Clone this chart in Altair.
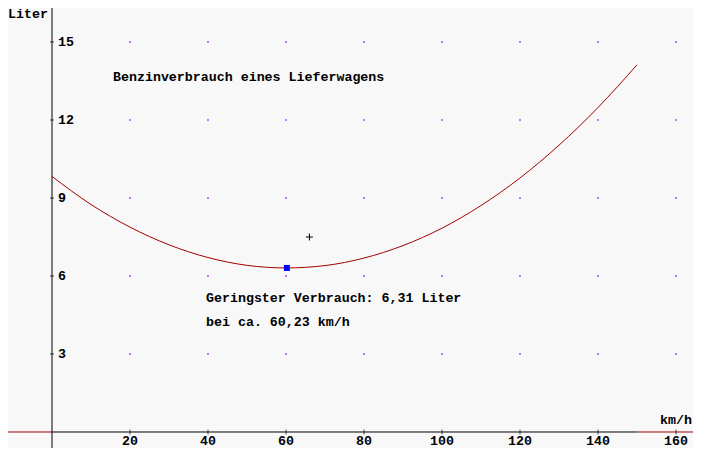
import altair as alt
import pandas as pd

# ---- data ----
speeds = [0, 10, 20, 30, 40, 50, 60, 70, 80, 90, 100, 110, 120, 130, 140, 150]
liters = [9.83, 8.75, 7.88, 7.20, 6.71, 6.41, 6.31, 6.40, 6.69, 7.17, 7.84, 8.71, 9.77, 11.03, 12.48, 14.12]
x_ticks = [20, 40, 60, 80, 100, 120, 140, 160]
y_ticks = [3, 6, 9, 12, 15]
min_speed = 60.23
min_liter = 6.31
marker_speed = 66
marker_liter = 7.5
curve_end = 150

title_text = "Benzinverbrauch eines Lieferwagens"
note1 = "Geringster Verbrauch: 6,31 Liter"
note2 = "bei ca. 60,23 km/h"
y_label = "Liter"
x_label = "km/h"

# ---- scales (chart is 685x440, placed at the page's 8px margin) ----
X_DOM = [-11.282, 164.36]
Y_DOM = [-0.6154, 16.3077]
xs = alt.Scale(domain=X_DOM, nice=False, zero=False)
ys = alt.Scale(domain=Y_DOM, nice=False, zero=False)

FONT = "Liberation Mono"
FS = 13.3

curve_df = pd.DataFrame({"v": speeds, "l": liters})
grid_df = pd.DataFrame([{"v": a, "l": b} for a in x_ticks for b in y_ticks])
xt_df = pd.DataFrame({"v": x_ticks, "l": [0] * len(x_ticks), "t": [str(t) for t in x_ticks]})
yt_df = pd.DataFrame({"v": [0] * len(y_ticks), "l": y_ticks, "t": [str(t) for t in y_ticks]})
min_df = pd.DataFrame({"v": [min_speed], "l": [min_liter]})
mark_df = pd.DataFrame({"v": [marker_speed], "l": [marker_liter]})

X = lambda f: alt.X(f, scale=xs, axis=None)
Y = lambda f: alt.Y(f, scale=ys, axis=None)

# x axis: black on curve range, red outside
xaxis_df = pd.DataFrame({"a": [0], "b": [curve_end], "l": [0]})
xred_df = pd.DataFrame({"a": [X_DOM[0], curve_end], "b": [0, X_DOM[1]], "l": [0, 0]})
yaxis_df = pd.DataFrame({"v": [0], "a": [Y_DOM[0]], "b": [Y_DOM[1]]})

xaxis = alt.Chart(xaxis_df).mark_rule(color="black", strokeWidth=1).encode(
    x=X("a:Q"), x2="b:Q", y=Y("l:Q"))
xred = alt.Chart(xred_df).mark_rule(color="#a00000", strokeWidth=1).encode(
    x=X("a:Q"), x2="b:Q", y=Y("l:Q"))
yaxis = alt.Chart(yaxis_df).mark_rule(color="black", strokeWidth=1).encode(
    x=X("v:Q"), y=Y("a:Q"), y2="b:Q")

xticks = alt.Chart(xt_df).mark_tick(color="black", orient="vertical", size=5, thickness=1).encode(
    x=X("v:Q"), y=Y("l:Q"))
yticks = alt.Chart(yt_df).mark_tick(color="black", orient="horizontal", size=4, thickness=1).encode(
    x=X("v:Q"), y=Y("l:Q"))

xlabels = alt.Chart(xt_df).mark_text(font=FONT, fontSize=FS, fontWeight="bold", align="center",
                                     baseline="alphabetic", dy=13, color="black").encode(
    x=X("v:Q"), y=Y("l:Q"), text="t:N")
ylabels = alt.Chart(yt_df).mark_text(font=FONT, fontSize=FS, fontWeight="bold", align="left",
                                     baseline="alphabetic", dx=6, dy=4, color="black").encode(
    x=X("v:Q"), y=Y("l:Q"), text="t:N")

grid = alt.Chart(grid_df).mark_square(size=2, color="#9000ff", opacity=1).encode(
    x=X("v:Q"), y=Y("l:Q"))

curve = alt.Chart(curve_df).mark_line(color="#a00000", strokeWidth=1, interpolate="monotone").encode(
    x=X("v:Q"), y=Y("l:Q"))

minpt = alt.Chart(min_df).mark_square(size=36, color="#0000ff", opacity=1).encode(
    x=X("v:Q"), y=Y("l:Q"))

plus = alt.Chart(mark_df).mark_point(shape="M -1 0 L 1 0 M 0 -1 L 0 1", size=49, filled=False,
                                     color="black", strokeWidth=1, opacity=1).encode(
    x=X("v:Q"), y=Y("l:Q"))


def label(txt, px, py):
    return alt.Chart(pd.DataFrame({"t": [txt]})).mark_text(
        font=FONT, fontSize=FS, fontWeight="bold", align="left", baseline="alphabetic", color="black"
    ).encode(x=alt.value(px), y=alt.value(py), text="t:N")


texts = [
    label(title_text, 105, 73),
    label(note1, 198, 294),
    label(note2, 198, 318),
    label(y_label, 0, 10),
    label(x_label, 652, 416),
]

chart = alt.layer(
    grid, xaxis, xred, yaxis, xticks, yticks, xlabels, ylabels, curve, minpt, plus, *texts
).properties(
    width=685, height=440, autosize="none", padding=0, background="#f8f8f8"
).configure_view(stroke=None)

chart.save("out.html", embed_options={"renderer": "svg", "actions": False})
